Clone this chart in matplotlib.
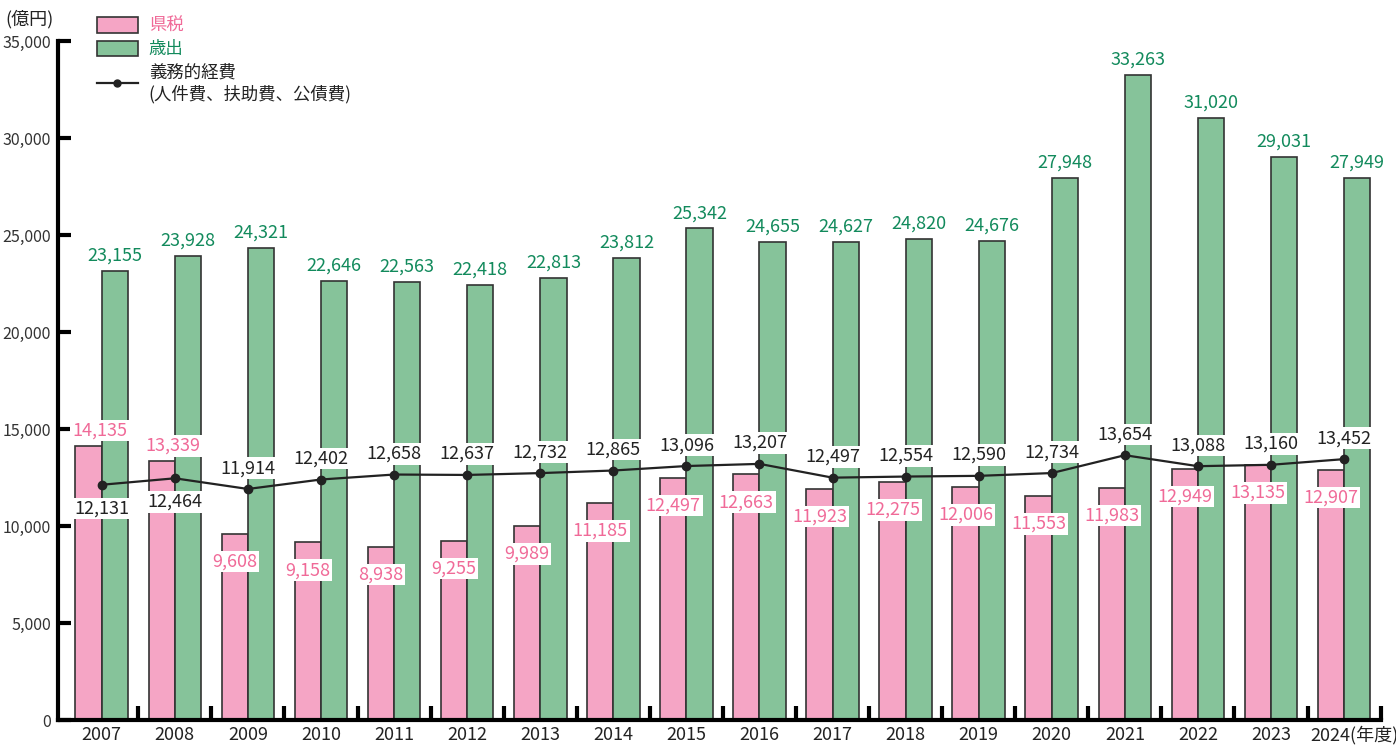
import matplotlib.pyplot as plt
import matplotlib.transforms as mtransforms
from matplotlib.patches import Patch
from matplotlib.lines import Line2D
import numpy as np

plt.rcParams['font.family'] = ['Noto Sans CJK JP', 'DejaVu Sans']

# Données (億円)
annees = ["2007", "2008", "2009", "2010", "2011", "2012", "2013", "2014", "2015",
          "2016", "2017", "2018", "2019", "2020", "2021", "2022", "2023", "2024"]
kenzei = [14135, 13339, 9608, 9158, 8938, 9255, 9989, 11185, 12497,
          12663, 11923, 12275, 12006, 11553, 11983, 12949, 13135, 12907]
saishutsu = [23155, 23928, 24321, 22646, 22563, 22418, 22813, 23812, 25342,
             24655, 24627, 24820, 24676, 27948, 33263, 31020, 29031, 27949]
gimu = [12131, 12464, 11914, 12402, 12658, 12637, 12732, 12865, 13096,
        13207, 12497, 12554, 12590, 12734, 13654, 13088, 13160, 13452]

# Couleurs
rose = "#f5a5c5"
vert = "#86c39a"
texte_rose = "#f06a98"
texte_vert = "#128a5c"
noir = "#222222"

fig = plt.figure(figsize=(13.96, 7.47), dpi=100)
ax = fig.add_axes([0.0415, 0.036, 0.9475, 0.909])

x = np.arange(len(annees))
largeur = 0.36

ax.bar(x - largeur / 2, kenzei, width=largeur, color=rose, edgecolor="#333333", linewidth=1.2, zorder=2)
ax.bar(x + largeur / 2, saishutsu, width=largeur, color=vert, edgecolor="#333333", linewidth=1.2, zorder=2)
ax.plot(x, gimu, color=noir, linewidth=1.6, marker="o", markersize=6, zorder=4)

boite = dict(boxstyle="square,pad=0.1", facecolor="white", edgecolor="none")
taille = 13

# Étiquettes des valeurs
for i in range(len(annees)):
    # 歳出 au-dessus des barres vertes
    ax.annotate(f"{saishutsu[i]:,}", (x[i] + largeur / 2, saishutsu[i]), xytext=(0, 11),
                textcoords="offset points", ha="center", va="center", color=texte_vert,
                fontsize=taille, zorder=6)
    # 県税
    if i < 2:
        ax.annotate(f"{kenzei[i]:,}", (x[i] - largeur / 2 + 0.15, kenzei[i]), xytext=(0, 11),
                    textcoords="offset points", ha="center", va="center", color=texte_rose,
                    fontsize=taille, bbox=boite, zorder=6)
    else:
        ax.annotate(f"{kenzei[i]:,}", (x[i] - largeur / 2, kenzei[i]), xytext=(0, -20),
                    textcoords="offset points", ha="center", va="center", color=texte_rose,
                    fontsize=taille, bbox=boite, zorder=6)
    # 義務的経費
    decalage = -17 if i < 2 else 15
    ax.annotate(f"{gimu[i]:,}", (x[i], gimu[i]), xytext=(0, decalage),
                textcoords="offset points", ha="center", va="center", color=noir,
                fontsize=taille, bbox=boite, zorder=7)

# Axes
ax.set_xlim(-0.6, len(annees) - 0.5)
ax.set_ylim(0, 35000)
for cote in ["top", "right"]:
    ax.spines[cote].set_visible(False)
ax.spines["left"].set_linewidth(3)
ax.spines["bottom"].set_linewidth(3)

ax.set_yticks(np.arange(0, 35001, 5000))
ax.set_yticklabels([f"{v:,}" for v in range(0, 35001, 5000)], fontsize=11.5, color="#333333")
ax.tick_params(axis="y", direction="in", length=9, width=3, pad=5)

etiquettes = annees[:-1] + [annees[-1] + "(年度)"]
ax.set_xticks(x)
ax.set_xticklabels(etiquettes, fontsize=13, color="#222222")
ax.tick_params(axis="x", length=0, pad=4)
ax.set_xticks(np.arange(0.5, len(annees), 1), minor=True)
ax.tick_params(axis="x", which="minor", direction="in", length=10, width=3)
# décaler le dernier label vers la droite
lbl = ax.get_xticklabels()[-1]
lbl.set_transform(lbl.get_transform() + mtransforms.ScaledTranslation(0.1, 0, fig.dpi_scale_trans))

fig.text(0.004, 0.975, "(億円)", fontsize=13, color="#222222", va="center")

# Légende
poignees = [Patch(facecolor=rose, edgecolor="#333333", linewidth=1.2),
            Patch(facecolor=vert, edgecolor="#333333", linewidth=1.2),
            Line2D([0], [0], color=noir, linewidth=1.6, marker="o", markersize=5)]
noms = ["県税", "歳出", "義務的経費\n(人件費、扶助費、公債費)"]
leg = fig.legend(poignees, noms, loc="upper left", bbox_to_anchor=(0.058, 0.998),
                 frameon=False, fontsize=12.5, handlelength=2.4, handleheight=1.0,
                 labelspacing=0.3, handletextpad=0.6)
couleurs = [texte_rose, texte_vert, noir]
for t, c in zip(leg.get_texts(), couleurs):
    t.set_color(c)

fig.savefig("out.png", dpi=100)
